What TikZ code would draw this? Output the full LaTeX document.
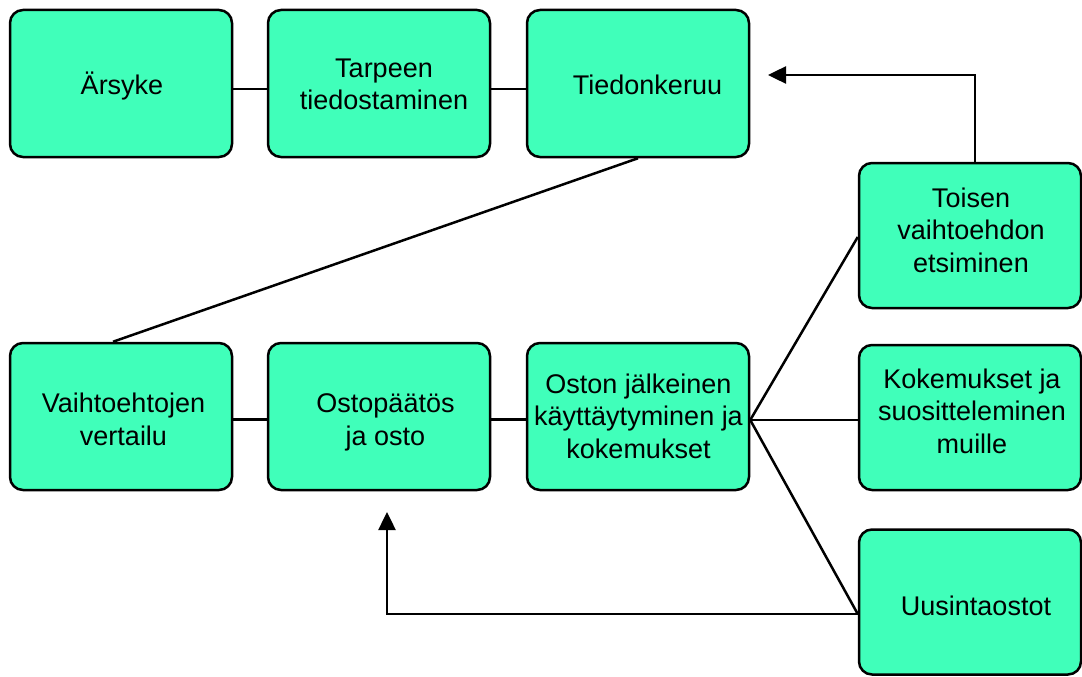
\documentclass[tikz,border=0pt]{standalone}
\usepackage{fontspec}
\setmainfont{Liberation Sans}
\usetikzlibrary{arrows.meta}
\definecolor{boxfill}{RGB}{64,255,186}
\begin{document}
\begin{tikzpicture}[x=1pt,y=-1pt,
  box/.style={draw=black, line width=2.5pt, fill=boxfill, rounded corners=13pt,
              minimum width=222pt, minimum height=147pt, inner sep=0pt},
  txt/.style={anchor=base, align=center, inner sep=0pt,
              font=\fontsize{27}{32.5}\selectfont},
  conn/.style={line width=2.5pt, draw=black},
  arr/.style={conn, -{Triangle[length=18pt,width=17pt]}}]
\useasboundingbox (0,0) rectangle (1082,677);

% boxes
\node[box] (a) at (121,83.5) {};
\node[box] (b) at (379,83.5) {};
\node[box] (c) at (638,83.5) {};
\node[box, minimum height=145pt] (d) at (970,235.5) {};
\node[box] (e) at (121,416.5) {};
\node[box] (f) at (379,416.5) {};
\node[box] (g) at (638,416.5) {};
\node[box, minimum height=145pt] (h) at (970,417.5) {};
\node[box, minimum height=145pt] (i) at (970,602) {};

% texts (anchor = baseline of last line)
\node[txt] (ta) at (122,95) {Ärsyke};
\node[txt] (tb) at (384,110) {Tarpeen\\tiedostaminen};
\node[txt] (tc) at (647.5,95) {Tiedonkeruu};
\node[txt] (td) at (971,272) {Toisen\\vaihtoehdon\\etsiminen};
\node[txt] (te) at (123.5,445) {Vaihtoehtojen\\vertailu};
\node[txt] (tf) at (385.5,445) {Ostopäätös\\ja osto};
\node[txt] (tg) at (638.5,458) {Oston jälkeinen\\käyttäytyminen ja\\kokemukset};
\node[txt] (th) at (972,453) {Kokemukset ja\\suositteleminen\\muille};
\node[txt] (ti) at (976,615) {Uusintaostot};

% connectors
\draw[conn] (a.east |- 0,89) -- (b.west |- 0,89);
\draw[conn] (b.east |- 0,89) -- (c.west |- 0,89);
\draw[conn] (c.south) -- ([xshift=-8pt]e.north);
\draw[conn] (e.east |- 0,419.5) -- (f.west |- 0,419.5);
\draw[conn] (f.east |- 0,419.5) -- (g.west |- 0,419.5);
\draw[conn] (g.east |- 0,420) -- (d.west |- 0,237);
\draw[conn] (g.east |- 0,420) -- (h.west |- 0,420);
\draw[conn] (g.east |- 0,420) -- (i.west |- 0,614);
\coordinate (tipc) at (768,75);
\draw[arr] ([xshift=5pt]d.north) |- (tipc);
\coordinate (tipf) at (387,512);
\draw[arr] (i.west |- 0,614) -| (tipf);
\end{tikzpicture}
\end{document}
